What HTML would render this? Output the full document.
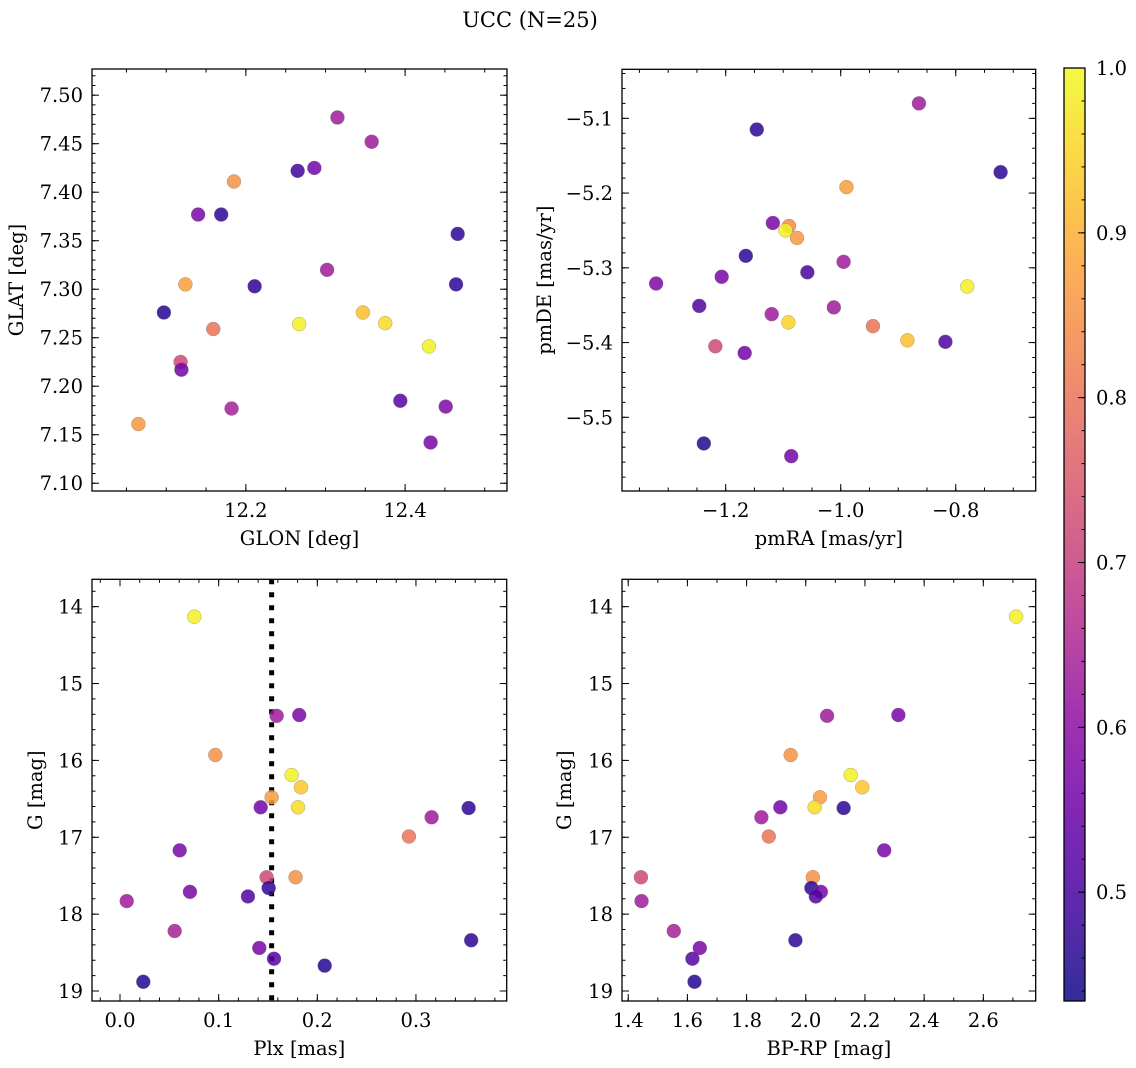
<!DOCTYPE html>
<html><head><meta charset="utf-8"><style>
body{margin:0;background:#fff;width:1136px;height:1068px;overflow:hidden}
svg{display:block;font-family:"DejaVu Serif","Liberation Serif",serif}
</style></head><body>
<svg id="fig" width="1136" height="1068" viewBox="0 0 1136 1068" xmlns="http://www.w3.org/2000/svg">
<text x="530" y="27" font-size="21" text-anchor="middle">UCC (N=25)</text>
</svg>
<script>
// Panel 1: GLON vs GLAT
const p1x=[12.315,12.358,12.265,12.286,12.185,12.140,12.169,12.466,12.302,12.124,12.211,12.464,12.097,12.347,12.267,12.375,12.159,12.430,12.118,12.119,12.394,12.182,12.451,12.065,12.432];
const p1y=[7.477,7.452,7.422,7.425,7.411,7.377,7.377,7.357,7.320,7.305,7.303,7.305,7.276,7.276,7.264,7.265,7.259,7.241,7.225,7.217,7.185,7.177,7.179,7.161,7.142];
const p1c=[0.63,0.63,0.49,0.56,0.85,0.57,0.47,0.47,0.63,0.87,0.47,0.47,0.46,0.92,0.99,0.96,0.80,0.99,0.72,0.56,0.52,0.64,0.58,0.86,0.57];
// Panel 2: pmRA vs pmDE
const p2x=[-0.864,-1.146,-0.722,-0.990,-1.118,-1.090,-1.096,-1.076,-1.165,-0.995,-1.058,-1.207,-1.321,-0.780,-1.246,-1.012,-1.120,-1.091,-0.944,-0.884,-0.818,-1.218,-1.167,-1.238,-1.086];
const p2y=[-5.080,-5.115,-5.172,-5.192,-5.240,-5.244,-5.250,-5.260,-5.284,-5.292,-5.306,-5.312,-5.321,-5.325,-5.351,-5.353,-5.362,-5.373,-5.378,-5.397,-5.399,-5.405,-5.414,-5.535,-5.552];
const p2c=[0.63,0.47,0.47,0.87,0.57,0.84,0.99,0.86,0.47,0.63,0.50,0.57,0.58,0.99,0.51,0.63,0.63,0.95,0.80,0.92,0.51,0.72,0.56,0.46,0.56];
// Panel 3: Plx vs G
const p3x=[0.0753,0.1588,0.1817,0.0966,0.174,0.1834,0.1537,0.1426,0.1804,0.3534,0.3159,0.2929,0.0605,0.1486,0.1780,0.1507,0.0709,0.1297,0.0068,0.0554,0.3560,0.1412,0.1561,0.2075,0.0236];
const p3y=[14.13,15.42,15.41,15.93,16.19,16.35,16.48,16.61,16.61,16.62,16.74,16.99,17.17,17.52,17.52,17.66,17.71,17.77,17.83,18.22,18.34,18.44,18.58,18.67,18.88];
const p3c=[0.99,0.63,0.57,0.85,0.99,0.93,0.87,0.56,0.96,0.47,0.63,0.80,0.57,0.72,0.85,0.47,0.57,0.51,0.63,0.64,0.47,0.57,0.52,0.46,0.46];
const plxLine=[0.1537];
// Panel 4: BP-RP vs G
const p4x=[2.711,2.072,2.313,1.949,2.152,2.191,2.048,1.914,2.030,2.128,1.850,1.875,2.265,1.443,2.024,2.019,2.051,2.034,1.445,1.554,1.965,1.642,1.617,1.624];
const p4y=[14.13,15.42,15.41,15.93,16.19,16.35,16.48,16.61,16.61,16.62,16.74,16.99,17.17,17.52,17.52,17.66,17.71,17.77,17.83,18.22,18.34,18.44,18.58,18.88];
const p4c=[0.99,0.63,0.57,0.85,0.99,0.93,0.87,0.56,0.96,0.47,0.63,0.80,0.57,0.72,0.85,0.47,0.57,0.51,0.63,0.64,0.47,0.57,0.52,0.46];
const cbTicks=[0.5,0.6,0.7,0.8,0.9,1.0];
const cmin=0.434,cmax=1.0;
const FS=19.5;

const NS="http://www.w3.org/2000/svg";
const svg=document.getElementById('fig');
function mk(tag,attrs,parent){const e=document.createElementNS(NS,tag);for(const k in attrs)e.setAttribute(k,attrs[k]);(parent||svg).appendChild(e);return e;}
const stops=["#0d0887","#41049d","#6a00a8","#8f0da4","#b12a90","#cc4778","#e16462","#f2844b","#fca636","#fcce25","#f0f921"];
function hex(h){return[parseInt(h.substr(1,2),16),parseInt(h.substr(3,2),16),parseInt(h.substr(5,2),16)];}
function plasma(v){let t=(v-cmin)/(cmax-cmin);t=Math.max(0,Math.min(1,t));const f=t*10,i=Math.min(9,Math.floor(f)),r=f-i;const a=hex(stops[i]),b=hex(stops[i+1]);return 'rgb('+a.map((x,j)=>Math.round(x+(b[j]-x)*r)).join(',')+')';}
function fmt(v,d){return (v<0?'\u2212':'')+Math.abs(v).toFixed(d);}

function panel(o){
  const g=mk('g',{});
  
  
  const sx=v=>o.L+(v-o.x0)/(o.x1-o.x0)*(o.R-o.L);
  const sy=v=>o.inv? o.T+(v-o.y0)/(o.y1-o.y0)*(o.B-o.T) : o.B-(v-o.y0)/(o.y1-o.y0)*(o.B-o.T);
  const tg=mk('g',{stroke:'#000','stroke-width':1},g);
  function ticks(a0,a1,step,len,isX,lab,dec){
    const s=Math.ceil(a0/step-1e-6);
    for(let k=s;k*step<=a1+1e-9;k++){const v=k*step;
      if(isX){const x=sx(v);mk('line',{x1:x,x2:x,y1:o.B,y2:o.B-len},tg);mk('line',{x1:x,x2:x,y1:o.T,y2:o.T+len},tg);
        if(lab){const t=mk('text',{x:x,y:o.B+26,'font-size':FS,'text-anchor':'middle'},g);t.textContent=fmt(v,dec);}}
      else{const y=sy(v);mk('line',{x1:o.L,x2:o.L+len,y1:y,y2:y},tg);mk('line',{x1:o.R,x2:o.R-len,y1:y,y2:y},tg);
        if(lab){const t=mk('text',{x:o.L-9,y:y+7,'font-size':FS,'text-anchor':'end'},g);t.textContent=fmt(v,dec);}}
    }}
  ticks(o.x0,o.x1,o.xmin,3.5,true,false);
  ticks(o.x0,o.x1,o.xmaj,7,true,true,o.xd);
  const ya=Math.min(o.y0,o.y1),yb=Math.max(o.y0,o.y1);
  ticks(ya,yb,o.ymin,3.5,false,false);
  ticks(ya,yb,o.ymaj,7,false,true,o.yd);
  if(o.vline!==undefined){const l=mk('line',{x1:sx(o.vline),x2:sx(o.vline),y1:o.T,y2:o.B,stroke:'#000','stroke-width':5,'stroke-dasharray':'5 8'},g);
    }
  for(let i=0;i<o.xs.length;i++){
    const c=mk('circle',{cx:sx(o.xs[i]),cy:sy(o.ys[i]),r:7,fill:plasma(o.cs[i]),'fill-opacity':0.85,stroke:'#777','stroke-width':0.5,'stroke-opacity':0.6},g);
    
    
  }
  const fr=mk('rect',{x:o.L,y:o.T,width:o.R-o.L,height:o.B-o.T,fill:'none',stroke:'#000','stroke-width':1.3},g);
  
  const xl=mk('text',{x:(o.L+o.R)/2,y:o.B+54,'font-size':FS,'text-anchor':'middle'},g);xl.textContent=o.xlab;
  
  const yx=o.ylx,yy=(o.T+o.B)/2;
  const yl=mk('text',{x:yx,y:yy,'font-size':FS,'text-anchor':'middle',transform:'rotate(-90 '+yx+' '+yy+')'},g);yl.textContent=o.ylab;
  
}
panel({name:'glon-glat-panel',L:92,R:507,T:69,B:491,x0:12.0067,x1:12.528,y0:7.092,y1:7.527,xmaj:0.2,xmin:0.05,xd:1,ymaj:0.05,ymin:0.01,yd:2,xs:p1x,ys:p1y,cs:p1c,xlab:'GLON [deg]',ylab:'GLAT [deg]',ylx:23});
panel({name:'proper-motion-panel',L:622,R:1035.7,T:69.3,B:491,x0:-1.3803,x1:-0.661,y0:-5.5986,y1:-5.0344,xmaj:0.2,xmin:0.05,xd:1,ymaj:0.1,ymin:0.02,yd:1,xs:p2x,ys:p2y,cs:p2c,xlab:'pmRA [mas/yr]',ylab:'pmDE [mas/yr]',ylx:551});
panel({name:'plx-g-panel',L:92,R:506.7,T:579.3,B:1001,x0:-0.0284,x1:0.392,y0:13.644,y1:19.13,inv:true,xmaj:0.1,xmin:0.02,xd:1,ymaj:1,ymin:0.2,yd:0,xs:p3x,ys:p3y,cs:p3c,vline:plxLine[0],xlab:'Plx [mas]',ylab:'G [mag]',ylx:42});
panel({name:'color-magnitude-panel',L:622,R:1035.7,T:579.3,B:1001,x0:1.379,x1:2.777,y0:13.644,y1:19.13,inv:true,xmaj:0.2,xmin:0.1,xd:1,ymaj:1,ymin:0.2,yd:0,xs:p4x,ys:p4y,cs:p4c,xlab:'BP-RP [mag]',ylab:'G [mag]',ylx:571});

// colorbar
const cb=mk('g',{});


const CL=1064,CR=1085,CT=68,CB=1001;
const defs=mk('defs',{},cb);const gr=mk('linearGradient',{id:'pl',x1:0,y1:1,x2:0,y2:0},defs);
for(let i=0;i<=20;i++){const v=cmin+(cmax-cmin)*i/20;mk('stop',{offset:(i/20),'stop-color':plasma(v),'stop-opacity':0.85},gr);}
mk('rect',{x:CL,y:CT,width:CR-CL,height:CB-CT,fill:'url(#pl)'},cb);
const cy=v=>CB-(v-cmin)/(cmax-cmin)*(CB-CT);
for(let k=22;k<=50;k++){const v=k*0.02;if(v<cmin)continue;mk('line',{x1:CR,x2:CR-3.5,y1:cy(v),y2:cy(v),stroke:'#000'},cb);}
cbTicks.forEach(v=>{mk('line',{x1:CR,x2:CR-7,y1:cy(v),y2:cy(v),stroke:'#000'},cb);
  const t=mk('text',{x:CR+11,y:cy(v)+7,'font-size':FS},cb);t.textContent=v.toFixed(1);
  });
mk('rect',{x:CL,y:CT,width:CR-CL,height:CB-CT,fill:'none',stroke:'#000','stroke-width':1.3},cb);
</script>
</body></html>
